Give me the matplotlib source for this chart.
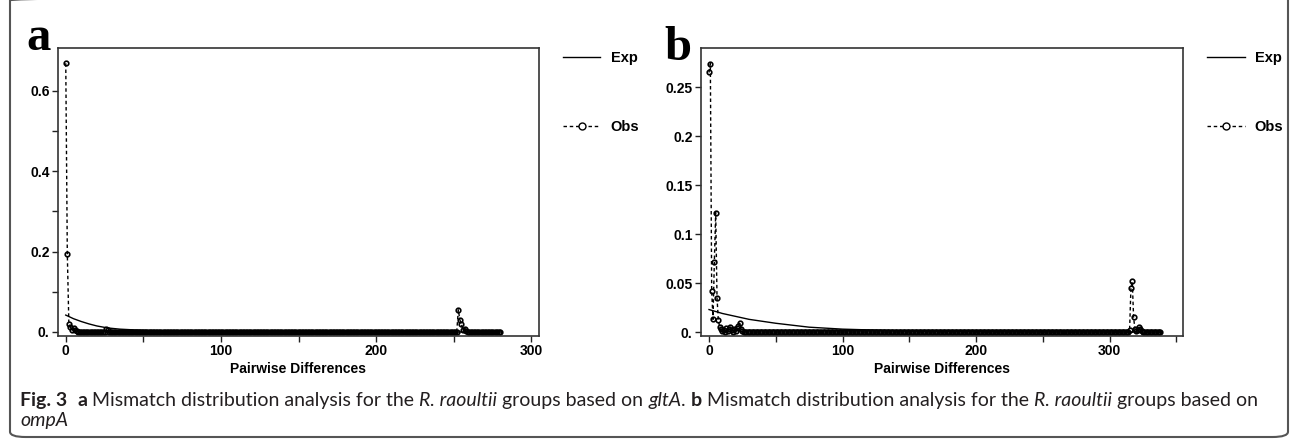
import matplotlib
matplotlib.use("Agg")
import matplotlib.pyplot as plt
from matplotlib.patches import FancyBboxPatch
from matplotlib.lines import Line2D
from matplotlib.ticker import FixedLocator, FuncFormatter

# panel a (gltA): non-zero observed frequencies, zero elsewhere up to obs_a_max
obs_a_peaks = {0: 0.668, 1: 0.195, 2: 0.020, 3: 0.012, 4: 0.006, 5: 0.009,
               6: 0.004, 7: 0.002, 26: 0.007, 27: 0.004,
               252: 0.001, 253: 0.055, 254: 0.030, 255: 0.020, 256: 0.004,
               257: 0.008, 258: 0.003}
obs_a_max = 280
exp_a_x = [0, 5, 10, 15, 20, 27, 35, 50, 75, 100, 150, 200, 280]
exp_a_y = [0.042, 0.033, 0.026, 0.020, 0.015, 0.010, 0.007, 0.004, 0.002,
           0.001, 0.0003, 0.0001, 0.0]
yticks_a = [0.0, 0.2, 0.4, 0.6]
yminor_a = [0.1, 0.3, 0.5]
xticks_a = [0, 100, 200, 300]
xminor_a = [50, 150, 250]

# panel b (ompA)
obs_b_peaks = {0: 0.265, 1: 0.274, 2: 0.042, 3: 0.013, 4: 0.072, 5: 0.122,
               6: 0.035, 7: 0.012, 8: 0.005, 9: 0.003, 10: 0.001, 11: 0.002,
               13: 0.004, 14: 0.001, 15: 0.003, 16: 0.005, 17: 0.002,
               19: 0.003, 20: 0.001, 21: 0.004, 22: 0.006, 23: 0.009,
               24: 0.003, 25: 0.001,
               315: 0.002, 316: 0.045, 317: 0.052, 318: 0.015, 319: 0.003,
               320: 0.001, 321: 0.002, 322: 0.005, 323: 0.003, 324: 0.001}
obs_b_max = 338
exp_b_x = [0, 10, 20, 30, 50, 75, 100, 150, 200, 250, 338]
exp_b_y = [0.023, 0.019, 0.016, 0.013, 0.009, 0.005, 0.003, 0.001, 0.0004,
           0.0001, 0.0]
yticks_b = [0.0, 0.05, 0.1, 0.15, 0.2, 0.25]
xticks_b = [0, 100, 200, 300]
xminor_b = [50, 150, 250, 350]

caption_line1 = [("Fig. 3", "bold", "normal"), ("  ", "normal", "normal"),
                 ("a", "bold", "normal"),
                 (" Mismatch distribution analysis for the ", "normal", "normal"),
                 ("R. raoultii", "normal", "italic"),
                 (" groups based on ", "normal", "normal"),
                 ("gltA", "normal", "italic"), (". ", "normal", "normal"),
                 ("b", "bold", "normal"),
                 (" Mismatch distribution analysis for the ", "normal", "normal"),
                 ("R. raoultii", "normal", "italic"),
                 (" groups based on", "normal", "normal")]
caption_line2 = [("ompA", "normal", "italic")]

W, H = 1292, 444
fig = plt.figure(figsize=(W / 100, H / 100), dpi=100)

tick_font = dict(family="Liberation Sans", weight="bold", size=10)
leg_font = dict(family=["Liberation Sans Narrow", "Liberation Sans"], weight="bold", size=10.5)


def zero_fmt(v, pos):
    return "0." if v == 0 else "%g" % v


def panel(rect, peaks, nmax, ex, ey, xlim, ylim, yt, ym, xt, xm, letter, lpos):
    ax = fig.add_axes(rect)
    ox = list(range(nmax + 1))
    oy = [peaks.get(i, 0.0) for i in ox]
    ax.plot(ex, ey, color="black", lw=1.0)
    ax.plot(ox, oy, color="black", lw=1.0, linestyle=(0, (2.5, 2)),
            marker="o", ms=3.3, mfc="none", mec="black", mew=1.2)
    ax.set_xlim(*xlim)
    ax.set_ylim(*ylim)
    ax.yaxis.set_major_locator(FixedLocator(yt))
    ax.yaxis.set_major_formatter(FuncFormatter(zero_fmt))
    if ym:
        ax.yaxis.set_minor_locator(FixedLocator(ym))
    ax.xaxis.set_major_locator(FixedLocator(xt))
    ax.xaxis.set_minor_locator(FixedLocator(xm))
    ax.tick_params(which="both", direction="out", length=4, width=1.0,
                   color="#222222", pad=2)
    for lab in ax.get_xticklabels() + ax.get_yticklabels():
        lab.set(**tick_font)
    for sp in ax.spines.values():
        sp.set_linewidth(1.2)
        sp.set_color("#333333")
    handles = [Line2D([], [], color="black", lw=1.0),
               Line2D([], [], color="black", lw=1.0, linestyle=(0, (2.5, 2)),
                      marker="o", ms=5, mfc="white", mec="black")]
    ax.legend(handles, ["Exp", "Obs"], loc="upper left",
              bbox_to_anchor=(1.049, 0.99), frameon=False, handlelength=2.6,
              handletextpad=0.7, labelspacing=3.8, borderpad=0,
              borderaxespad=0, numpoints=1, prop=leg_font)
    cx = rect[0] + rect[2] / 2
    fig.text(cx, 1 - 373 / H, "Pairwise Differences", ha="center",
             va="baseline", **tick_font)
    fig.text(lpos[0] / W, 1 - lpos[1] / H, letter, family="Liberation Serif",
             weight="bold", size=35, va="baseline", ha="left")
    return ax


panel([58 / W, 1 - 336 / H, 481 / W, 288 / H], obs_a_peaks, obs_a_max,
      exp_a_x, exp_a_y, (-5, 305), (-0.010, 0.706), yticks_a, yminor_a,
      xticks_a, xminor_a, "a", (26, 50))
panel([701 / W, 1 - 336 / H, 482 / W, 288 / H], obs_b_peaks, obs_b_max,
      exp_b_x, exp_b_y, (-6, 355), (-0.004, 0.290), yticks_b, None,
      xticks_b, xminor_b, "b", (664, 60))

# rounded frame around the figure
frame = FancyBboxPatch((10 / W, 7 / H), 1278 / W, 442 / H,
                       boxstyle="round,pad=0,rounding_size=0.012",
                       transform=fig.transFigure, fill=False,
                       edgecolor="#555555", lw=1.5, clip_on=False)
fig.patches.append(frame)

# caption built piece by piece, sized so line 1 spans the reference width
fig.canvas.draw()
renderer = fig.canvas.get_renderer()


def line_width(pieces, size):
    total = 0
    for txt, weight, style in pieces:
        t = fig.text(0, 0, txt, family="Lato", size=size, weight=weight,
                     style=style)
        total += t.get_window_extent(renderer).width
        t.remove()
    return total


cap_size = 12.5 * 1237 / line_width(caption_line1, 12.5)


def put_line(pieces, x0, ybase):
    x = x0
    for txt, weight, style in pieces:
        t = fig.text(x / W, 1 - ybase / H, txt, family="Lato", size=cap_size,
                     weight=weight, style=style, color="#231f20",
                     va="baseline", ha="left")
        x += t.get_window_extent(renderer).width


put_line(caption_line1, 20, 406)
put_line(caption_line2, 20, 426)

fig.savefig("out.png", dpi=100)
